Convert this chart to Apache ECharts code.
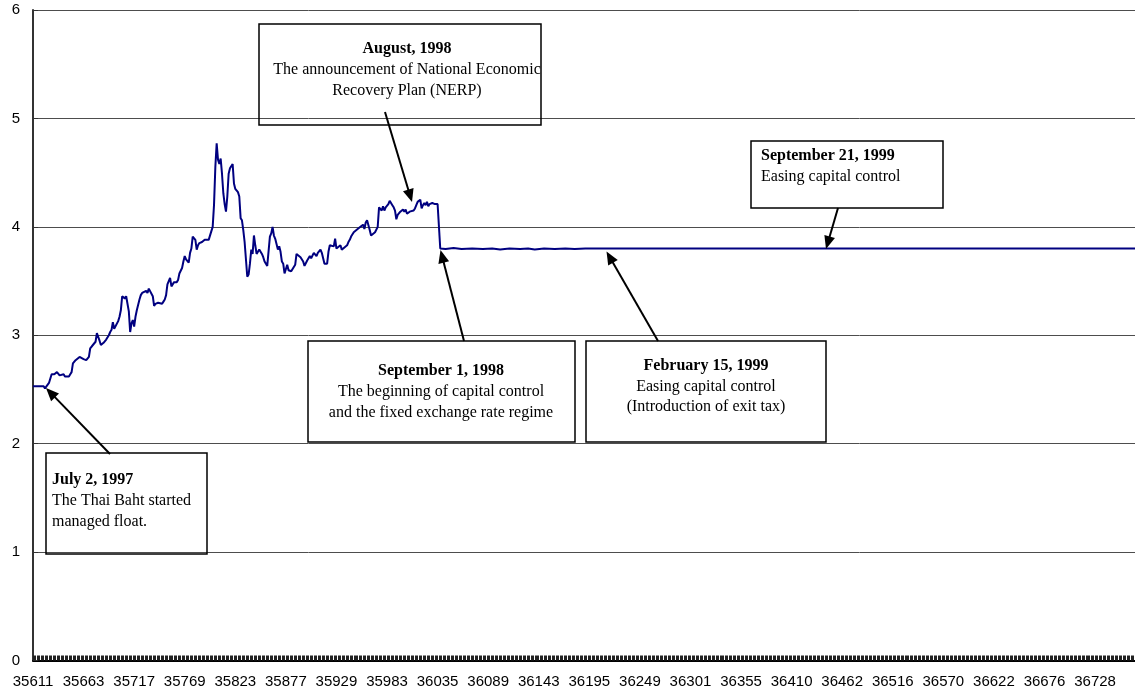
<!DOCTYPE html>
<html><head><meta charset="utf-8">
<script src="https://cdn.jsdelivr.net/npm/echarts@6/dist/echarts.min.js"></script>
<style>html,body{margin:0;padding:0;background:#fff}#chart{width:1135px;height:698px}</style>
</head><body><div id="chart"></div>
<script>
// x-axis tick labels (Excel serial dates, one label every 38 trading days)
const tickLabels = [35611,35663,35717,35769,35823,35877,35929,35983,36035,36089,36143,36195,36249,36301,36355,36410,36462,36516,36570,36622,36676,36728];
const daysPerLabel = 38;
const dayCount = 829;   // trading days visible on the axis

// managed float period (trading-day index, rate)
const floatDays = [0,4,8,9,10,12,14,16,18,20,23,24,25,27,28,29,30,32,33,35,38,40,42,43,45,47,48,49,50,51,53,55,57,58,59,60,61,62,64,65,66,67,68,69,70,72,73,74,75,76,77,78,80,81,82,83,85,86,87,88,90,91,92,94,95,97,98,99,100,101,103,104,105,106,108,109,110,112,113,114,115,117,118,119,120,122,123,124,125,127,128,129,130,132,133,135,136,137,138,139,140,141,142,143,144,145,146,147,148,149,150,151,152,154,155,156,157,158,159,160,161,162,163,164,165,166,167,168,169,170,171,172,173,174,176,177,178,179,180,181,182,183,184,185,186,187,188,189,190,191,192,194,195,197,198,199,201,202,203,204,206,207,208,209,211,212,213,214,216,217,218,219,221,222,223,224,226,227,228,229,231,232,233,234,236,237,238,239,241,242,243,244,246,247,248,249,250,251,252,253,254,255,257,258,259,260,261,262,263,264,265,266,267,268,269,270,271,272,273,274,275,276,277,278,279,280,281,282,283,284,286,287,288,289,290,291,292,293,294,295,296,297,298,299,300,301,302,303,304,305];
const floatRates = [2.53,2.53,2.53,2.51,2.50,2.56,2.64,2.64,2.66,2.63,2.64,2.62,2.63,2.62,2.64,2.66,2.74,2.77,2.78,2.80,2.78,2.77,2.80,2.88,2.91,2.94,3.02,3.03,2.95,2.91,2.93,2.96,3.00,3.03,3.05,3.12,3.06,3.05,3.13,3.17,3.23,3.36,3.36,3.34,3.36,3.22,3.03,3.11,3.14,3.08,3.17,3.23,3.33,3.37,3.39,3.38,3.41,3.39,3.43,3.42,3.36,3.27,3.29,3.30,3.31,3.29,3.31,3.33,3.37,3.47,3.53,3.45,3.46,3.49,3.49,3.51,3.57,3.62,3.68,3.73,3.70,3.67,3.76,3.80,3.91,3.88,3.79,3.83,3.85,3.86,3.86,3.88,3.89,3.88,3.88,4.00,4.20,4.55,4.77,4.62,4.58,4.63,4.49,4.31,4.21,4.14,4.28,4.49,4.54,4.54,4.58,4.40,4.35,4.32,4.28,4.08,4.06,3.97,3.86,3.85,3.54,3.56,3.66,3.79,3.75,3.92,3.83,3.75,3.76,3.79,3.80,3.75,3.72,3.68,3.64,3.65,3.91,3.94,4.00,3.92,3.89,3.88,3.79,3.82,3.77,3.68,3.66,3.57,3.56,3.65,3.60,3.59,3.60,3.65,3.75,3.75,3.72,3.71,3.68,3.64,3.69,3.71,3.73,3.71,3.76,3.77,3.73,3.76,3.79,3.76,3.71,3.66,3.66,3.77,3.83,3.84,3.82,3.89,3.80,3.79,3.83,3.79,3.79,3.81,3.83,3.86,3.88,3.91,3.95,3.94,3.97,3.98,4.00,4.01,4.02,3.98,4.04,4.06,4.05,3.97,3.92,3.93,3.95,3.94,4.00,4.18,4.18,4.15,4.19,4.15,4.18,4.18,4.21,4.24,4.25,4.20,4.18,4.15,4.07,4.11,4.12,4.14,4.15,4.16,4.14,4.16,4.12,4.11,4.14,4.15,4.15,4.17,4.20,4.23,4.24,4.25,4.17,4.20,4.22,4.20,4.23,4.19,4.21,4.20,4.22,4.23,4.21,4.22,4.21,4.20];

// fixed exchange rate period
const pegDays  = [306,307,310,316,322,330,338,345,351,358,366,372,377,384,392,400,407,415,551,828];
const pegRates = [3.80,3.80,3.795,3.805,3.795,3.80,3.795,3.80,3.79,3.80,3.795,3.80,3.79,3.80,3.795,3.80,3.795,3.80,3.80,3.80];

const categories = Array.from({length: dayCount}, (_, i) => i);
const seriesData = floatDays.map((d, k) => [d, floatRates[k]])
  .concat(pegDays.map((d, k) => [d, pegRates[k]]));

// annotation boxes (layout in pixels)
const serif = '"Liberation Serif","Times New Roman",serif';
const notes = [
  {box:[259,24,282,101], align:'center', tx:407, ty:[49,70,91],
   lines:['August, 1998','The announcement of National Economic','Recovery Plan (NERP)'], arrow:[385,112,412,202]},
  {box:[751,141,192,67], align:'left', tx:761, ty:[156,177],
   lines:['September 21, 1999','Easing capital control'], arrow:[838,208,826,249]},
  {box:[308,341,267,101], align:'center', tx:441, ty:[371,392,413],
   lines:['September 1, 1998','The beginning of capital control','and the fixed exchange rate regime'], arrow:[464,341,440.5,250]},
  {box:[586,341,240,101], align:'center', tx:706, ty:[366,387,407],
   lines:['February 15, 1999','Easing capital control','(Introduction of exit tax)'], arrow:[658,341,606.5,251.5]},
  {box:[46,453,161,101], align:'left', tx:52, ty:[480,501,522],
   lines:['July 2, 1997','The Thai Baht started','managed float.'], arrow:[110,454,46,388]}
];

function arrowEls(x1, y1, x2, y2) {
  const dx = x2 - x1, dy = y2 - y1, L = Math.hypot(dx, dy), ux = dx / L, uy = dy / L;
  const hl = 13, hw = 5.5, bx = x2 - ux * hl, by = y2 - uy * hl;
  return [
    {type:'line', z:100, shape:{x1:x1, y1:y1, x2:bx + ux * 2, y2:by + uy * 2}, style:{stroke:'#000', lineWidth:2}},
    {type:'polygon', z:100, shape:{points:[[x2, y2],[bx - uy * hw, by + ux * hw],[bx + uy * hw, by - ux * hw]]}, style:{fill:'#000'}}
  ];
}

const graphics = [];
notes.forEach(n => {
  graphics.push({type:'rect', z:100, shape:{x:n.box[0], y:n.box[1], width:n.box[2], height:n.box[3]},
    style:{fill:'rgba(0,0,0,0)', stroke:'#000', lineWidth:1.5}});
  n.lines.forEach((t, k) => {
    graphics.push({type:'text', z:101, x:n.tx, y:n.ty[k],
      style:{text:t, font:(k === 0 ? 'bold ' : '') + '16px ' + serif, fill:'#000', align:n.align, verticalAlign:'middle'}});
  });
  graphics.push(...arrowEls(...n.arrow));
});

const chart = echarts.init(document.getElementById('chart'));
chart.setOption({
  animation: false,
  grid: {left: 33, right: 0, top: 10, bottom: 37.5, containLabel: false},
  xAxis: {
    type: 'category', data: categories, boundaryGap: false,
    axisLine: {lineStyle: {color: '#000', width: 2}},
    axisTick: {interval: 0, inside: true, length: 5, lineStyle: {color: '#222', width: 1}},
    axisLabel: {interval: daysPerLabel - 1, margin: 14, color: '#000', fontSize: 15,
      fontFamily: '"Liberation Sans", Arial, sans-serif',
      formatter: (v, idx) => { const k = idx / daysPerLabel; return Number.isInteger(k) && k < tickLabels.length ? String(tickLabels[k]) : ''; }},
    splitLine: {show: false}
  },
  yAxis: {
    type: 'value', min: 0, max: 6, interval: 1,
    axisLine: {show: true, lineStyle: {color: '#333', width: 2}},
    axisTick: {show: true, inside: true, length: 5, lineStyle: {color: '#333'}},
    axisLabel: {margin: 13, color: '#000', fontSize: 15, fontFamily: '"Liberation Sans", Arial, sans-serif'},
    splitLine: {lineStyle: {color: '#4d4d4d', width: 1}}
  },
  series: [{
    type: 'line', data: seriesData, showSymbol: false, symbol: 'none',
    lineStyle: {color: '#000080', width: 2}, clip: true
  }],
  graphic: graphics
});
</script></body></html>
